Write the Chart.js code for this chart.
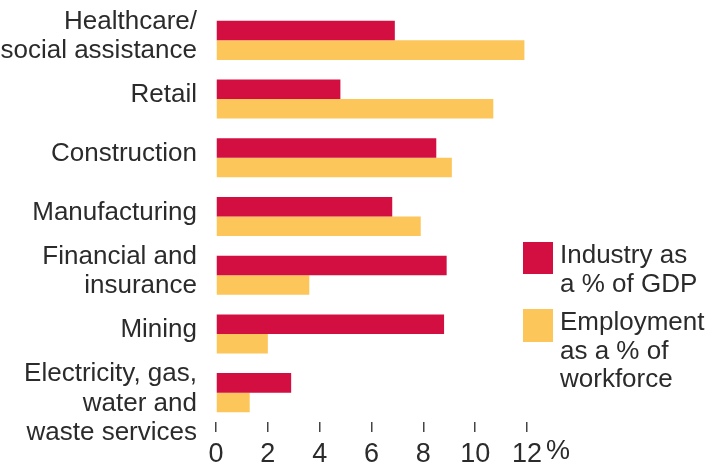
<!DOCTYPE html>
<html>
<head>
<meta charset="utf-8">
<script src="https://cdn.jsdelivr.net/npm/chart.js@4/dist/chart.umd.min.js"></script>
<style>
  html, body { margin: 0; padding: 0; background: #fff; }
  #wrap { width: 712px; height: 466px; }
</style>
</head>
<body>
<div id="wrap"><canvas id="sectorChart" width="712" height="466"></canvas></div>
<script>
// Sectors, top to bottom (leading blank line drops the last label onto the axis line)
const categories = [
  ['Healthcare/', 'social assistance'],
  'Retail',
  'Construction',
  'Manufacturing',
  ['Financial and', 'insurance'],
  'Mining',
  ['', 'Electricity, gas,', 'water and', 'waste services']
];
// Industry as a % of GDP
const gdpShare = [6.9, 4.8, 8.5, 6.8, 8.9, 8.8, 2.9];
// Employment as a % of workforce
const workforceShare = [11.9, 10.7, 9.1, 7.9, 3.6, 2.0, 1.3];
// Axis ticks
const xTicks = [0, 2, 4, 6, 8, 10, 12];
const legendLines = [
  ['Industry as', 'a % of GDP'],
  ['Employment', 'as a % of', 'workforce']
];

const RED = '#D30F42';
const YELLOW = '#FCC65A';
const TEXT = '#2b2b2b';
const FONT = "'Liberation Sans', Arial, sans-serif";

// Legend drawn as two stacked blocks on the right
const sideLegend = {
  id: 'sideLegend',
  afterDraw(chart) {
    const ctx = chart.ctx;
    const blocks = [
      { boxY: 242, boxH: 32, base: 263 },
      { boxY: 309, boxH: 33, base: 330 }
    ];
    ctx.save();
    ctx.font = '26px ' + FONT;
    ctx.textAlign = 'left';
    ctx.textBaseline = 'alphabetic';
    blocks.forEach((b, i) => {
      ctx.fillStyle = chart.data.datasets[i].backgroundColor;
      ctx.fillRect(523, b.boxY, 30, b.boxH);
      ctx.fillStyle = TEXT;
      legendLines[i].forEach((line, j) => {
        ctx.fillText(line, 560, b.base + j * 28.5);
      });
    });
    ctx.restore();
  }
};

// Percent sign after the last tick label
const percentSign = {
  id: 'percentSign',
  afterDraw(chart) {
    const x = chart.scales.x;
    const ctx = chart.ctx;
    const last = xTicks[xTicks.length - 1];
    ctx.save();
    ctx.font = '27px ' + FONT;
    ctx.fillStyle = TEXT;
    ctx.textAlign = 'left';
    ctx.textBaseline = 'top';
    const w = ctx.measureText(String(last)).width;
    ctx.fillText('%', x.getPixelForValue(last) + w / 2 + 4, x.top + 16);
    ctx.restore();
  }
};

const ctx = document.getElementById('sectorChart').getContext('2d');
const sectorChart = new Chart(ctx, {
  type: 'bar',
  data: {
    labels: categories,
    datasets: [{
      label: legendLines[0].join(' '),
      data: gdpShare,
      backgroundColor: RED,
      categoryPercentage: 0.665,
      barPercentage: 1.0
    }, {
      label: legendLines[1].join(' '),
      data: workforceShare,
      backgroundColor: YELLOW,
      categoryPercentage: 0.665,
      barPercentage: 1.0
    }]
  },
  options: {
    indexAxis: 'y',
    responsive: false,
    animation: false,
    layout: { padding: { top: 11, right: 185, left: 0, bottom: 0 } },
    plugins: {
      legend: { display: false },
      tooltip: { enabled: false }
    },
    scales: {
      x: {
        min: 0,
        max: 12,
        afterBuildTicks(scale) {
          scale.ticks = xTicks.map(v => ({ value: v }));
        },
        afterFit(scale) {
          scale.height = 44;
          scale.paddingLeft = 0;
          scale.paddingRight = 0;
        },
        border: { display: false },
        grid: {
          drawOnChartArea: false,
          drawTicks: true,
          tickLength: 10,
          color: '#444',
          lineWidth: 1.5
        },
        ticks: {
          padding: 6,
          color: TEXT,
          font: { family: FONT, size: 27 },
          maxRotation: 0
        }
      },
      y: {
        afterFit(scale) {
          scale.width = 216;
          scale.paddingTop = 0;
          scale.paddingBottom = 0;
        },
        border: { display: false },
        grid: { display: false, drawTicks: false },
        ticks: {
          autoSkip: false,
          padding: 19,
          labelOffset: -4,
          color: TEXT,
          font: { family: FONT, size: 26, lineHeight: 1.13 }
        }
      }
    }
  },
  plugins: [sideLegend, percentSign]
});
</script>
</body>
</html>
